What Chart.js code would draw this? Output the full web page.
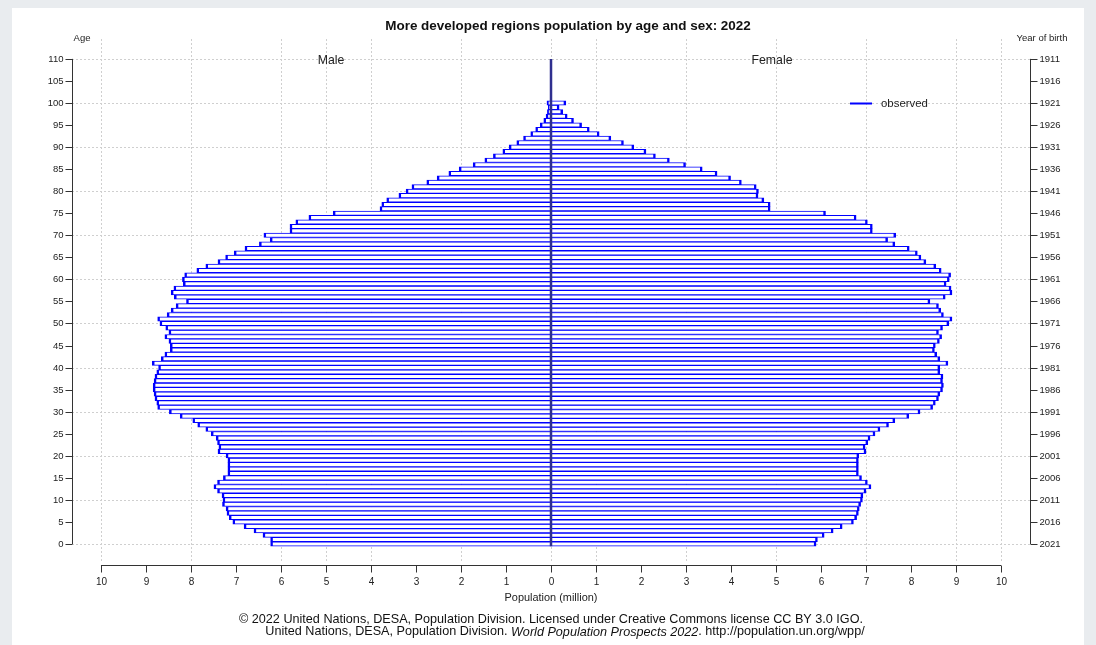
<!DOCTYPE html>
<html><head><meta charset="utf-8">
<script src="https://cdn.jsdelivr.net/npm/chart.js@4.4.0/dist/chart.umd.min.js"></script>
<style>html,body{margin:0;padding:0;background:#fff;overflow:hidden}canvas{display:block}</style>
</head><body>
<canvas id="c" width="1096" height="645"></canvas>
<script>
// ---------- data ----------
const ages = [];
for (let a = 0; a <= 100; a++) ages.push(a);
const maleValues = [
 6.23,6.23,6.40,6.60,6.82,7.07,7.15,7.20,7.22,7.30,
 7.29,7.31,7.41,7.49,7.41,7.28,7.18,7.18,7.18,7.18,
 7.22,7.40,7.38,7.41,7.44,7.55,7.67,7.85,7.96,8.24,
 8.48,8.74,8.76,8.80,8.82,8.84,8.84,8.82,8.80,8.76,
 8.72,8.86,8.66,8.58,8.46,8.46,8.49,8.58,8.49,8.56,
 8.69,8.74,8.53,8.44,8.33,8.10,8.37,8.44,8.38,8.17,
 8.19,8.14,7.87,7.67,7.40,7.23,7.04,6.80,6.48,6.24,
 6.38,5.80,5.80,5.67,5.38,4.84,3.80,3.76,3.65,3.38,
 3.22,3.09,2.76,2.53,2.27,2.04,1.73,1.47,1.28,1.07,
 0.93,0.76,0.61,0.45,0.34,0.24,0.16,0.11,0.08,0.06,
 0.09
];
const femaleValues = [
 5.89,5.92,6.07,6.27,6.47,6.72,6.79,6.83,6.85,6.88,
 6.92,6.93,7.00,7.11,7.03,6.90,6.83,6.83,6.83,6.83,
 6.84,7.00,6.98,7.04,7.09,7.20,7.31,7.50,7.64,7.95,
 8.20,8.48,8.54,8.61,8.64,8.70,8.72,8.70,8.71,8.64,
 8.64,8.82,8.64,8.57,8.52,8.54,8.63,8.68,8.61,8.70,
 8.84,8.91,8.72,8.66,8.61,8.42,8.76,8.91,8.89,8.78,
 8.85,8.88,8.67,8.55,8.33,8.22,8.14,7.96,7.64,7.48,
 7.66,7.14,7.14,7.03,6.78,6.10,4.87,4.87,4.73,4.60,
 4.61,4.56,4.23,3.99,3.69,3.36,2.99,2.63,2.32,2.11,
 1.84,1.61,1.33,1.07,0.85,0.68,0.50,0.36,0.26,0.18,
 0.33
];
const centerLineAges = [-0.5, 110];
const xTickValues = [-10,-9,-8,-7,-6,-5,-4,-3,-2,-1,0,1,2,3,4,5,6,7,8,9,10];
const xTickLabels = ['10','9','8','7','6','5','4','3','2','1','0','1','2','3','4','5','6','7','8','9','10'];
const yTickAges = [0,5,10,15,20,25,30,35,40,45,50,55,60,65,70,75,80,85,90,95,100,105,110];
const ageLabels = ['0','5','10','15','20','25','30','35','40','45','50','55','60','65','70','75','80','85','90','95','100','105','110'];
const birthYearLabels = ['2021','2016','2011','2006','2001','1996','1991','1986','1981','1976','1971','1966','1961','1956','1951','1946','1941','1936','1931','1926','1921','1916','1911'];
const gridX = [-10,-8,-6,-5,-4,-2,0,1,3,5,7,9,10];
const gridY = [0,10,20,30,40,50,60,70,80,90,100,110];

const TITLE = 'More developed regions population by age and sex: 2022';
const FOOT1 = '\u00A9 2022 United Nations, DESA, Population Division. Licensed under Creative Commons license CC BY 3.0 IGO.';
const FOOT2a = 'United Nations, DESA, Population Division. ';
const FOOT2b = 'World Population Prospects 2022';
const FOOT2c = '. http://population.un.org/wpp/';

// ---------- drawing helpers ----------
const FAM = '"Liberation Sans", Arial, Helvetica, sans-serif';
function fitFont(ctx, text, target, style) {
  let s = 11;
  ctx.font = style + ' ' + s + 'px ' + FAM;
  const w = ctx.measureText(text).width;
  return s * target / w;
}

const decor = {
  id: 'decor',
  beforeDraw(chart) {
    const ctx = chart.ctx;
    ctx.save();
    ctx.fillStyle = '#e9ecef';
    ctx.fillRect(0, 0, chart.width, chart.height);
    ctx.fillStyle = '#ffffff';
    ctx.fillRect(12, 8, 1072, 637);
    ctx.restore();
  },
  beforeDatasetsDraw(chart) {
    const ctx = chart.ctx, xs = chart.scales.x, ys = chart.scales.y, ca = chart.chartArea;
    ctx.save();
    ctx.strokeStyle = '#cfcfcf';
    ctx.lineWidth = 1;
    ctx.setLineDash([2, 2]);
    gridY.forEach(v => {
      const y = Math.round(ys.getPixelForValue(v)) + 0.5;
      ctx.beginPath(); ctx.moveTo(ca.left, y); ctx.lineTo(ca.right, y); ctx.stroke();
    });
    gridX.forEach(v => {
      const x = Math.round(xs.getPixelForValue(v)) + 0.5;
      ctx.beginPath(); ctx.moveTo(x, ca.top); ctx.lineTo(x, ca.bottom - 4); ctx.stroke();
    });
    ctx.restore();
  },
  afterDatasetsDraw(chart) {
    const ctx = chart.ctx, xs = chart.scales.x, ys = chart.scales.y, ca = chart.chartArea;
    ctx.save();
    ctx.strokeStyle = '#333';
    ctx.fillStyle = '#222';
    ctx.lineWidth = 1;
    ctx.setLineDash([]);
    // x axis
    const ax = ca.bottom + 0.5;
    const x0 = xs.getPixelForValue(xTickValues[0]), x1 = xs.getPixelForValue(xTickValues[xTickValues.length - 1]);
    ctx.beginPath(); ctx.moveTo(x0, ax); ctx.lineTo(x1, ax); ctx.stroke();
    ctx.font = '10px ' + FAM;
    ctx.textAlign = 'center'; ctx.textBaseline = 'middle';
    xTickValues.forEach((v, i) => {
      const x = Math.round(xs.getPixelForValue(v)) + 0.5;
      ctx.beginPath(); ctx.moveTo(x, ax); ctx.lineTo(x, ax + 7); ctx.stroke();
      ctx.fillText(xTickLabels[i], x, ax + 17);
    });
    ctx.font = fitFont(ctx, 'Population (million)', 93, '') + 'px ' + FAM;
    ctx.fillText('Population (million)', 551, 598);
    // y axes
    const lx = ca.left + 0.5, rx = ca.right + 0.5;
    const yb = ys.getPixelForValue(yTickAges[0]), yt = ys.getPixelForValue(yTickAges[yTickAges.length - 1]);
    ctx.beginPath(); ctx.moveTo(lx, yb); ctx.lineTo(lx, yt); ctx.stroke();
    ctx.beginPath(); ctx.moveTo(rx, yb); ctx.lineTo(rx, yt); ctx.stroke();
    ctx.font = '9.5px ' + FAM;
    yTickAges.forEach((a, i) => {
      const y = Math.round(ys.getPixelForValue(a)) + 0.5;
      ctx.beginPath(); ctx.moveTo(lx - 7, y); ctx.lineTo(lx, y); ctx.stroke();
      ctx.beginPath(); ctx.moveTo(rx, y); ctx.lineTo(rx + 7, y); ctx.stroke();
      ctx.textAlign = 'right'; ctx.fillText(ageLabels[i], lx - 9, y);
      ctx.textAlign = 'left'; ctx.fillText(birthYearLabels[i], rx + 9, y);
    });
    // axis titles
    ctx.font = '9.5px ' + FAM;
    ctx.textAlign = 'center';
    ctx.fillText('Age', 82, 38);
    ctx.fillText('Year of birth', 1042, 38);
    // title
    ctx.fillStyle = '#111';
    ctx.font = 'bold ' + fitFont(ctx, TITLE, 366, 'bold') + 'px ' + FAM;
    ctx.fillText(TITLE, 568, 26);
    // sex labels
    ctx.fillStyle = '#222';
    ctx.font = fitFont(ctx, 'Female', 41, '') + 'px ' + FAM;
    ctx.fillText('Male', 331, 61);
    ctx.fillText('Female', 772, 61);
    // legend
    ctx.strokeStyle = '#0000ff'; ctx.lineWidth = 2;
    ctx.beginPath(); ctx.moveTo(850, 103.5); ctx.lineTo(872, 103.5); ctx.stroke();
    ctx.textAlign = 'left';
    ctx.font = fitFont(ctx, 'observed', 47, '') + 'px ' + FAM;
    ctx.fillText('observed', 881, 104);
    // footer
    ctx.fillStyle = '#111';
    ctx.textAlign = 'center';
    const f1 = fitFont(ctx, FOOT1, 625, '');
    ctx.font = f1 + 'px ' + FAM;
    ctx.fillText(FOOT1, 551, 620);
    const wa = ctx.measureText(FOOT2a).width, wc = ctx.measureText(FOOT2c).width;
    ctx.font = 'italic ' + f1 + 'px ' + FAM;
    const wb = ctx.measureText(FOOT2b).width;
    let sx = 565 - (wa + wb + wc) / 2;
    ctx.textAlign = 'left';
    ctx.font = f1 + 'px ' + FAM; ctx.fillText(FOOT2a, sx, 632);
    ctx.font = 'italic ' + f1 + 'px ' + FAM; ctx.fillText(FOOT2b, sx + wa, 632);
    ctx.font = f1 + 'px ' + FAM; ctx.fillText(FOOT2c, sx + wa + wb, 632);
    ctx.restore();
  }
};

const barCommon = {
  backgroundColor: '#ffffff',
  borderColor: '#0000ff',
  borderSkipped: false,
  grouped: false,
  barPercentage: 1,
  categoryPercentage: 1,
  order: 1
};

new Chart(document.getElementById('c'), {
  type: 'bar',
  data: {
    datasets: [
      {
        type: 'line', label: 'center',
        data: centerLineAges.map(a => ({ x: 0, y: a })),
        borderColor: '#2f2f8f', borderWidth: 2.5, pointRadius: 0, order: 0
      },
      Object.assign({}, barCommon, {
        label: 'Male',
        data: ages.map((a, i) => ({ x: -maleValues[i], y: a })),
        borderWidth: { left: 2.5, right: 0, top: 1, bottom: 1 }
      }),
      Object.assign({}, barCommon, {
        label: 'Female',
        data: ages.map((a, i) => ({ x: femaleValues[i], y: a })),
        borderWidth: { left: 0, right: 2.5, top: 1, bottom: 1 }
      })
    ]
  },
  options: {
    indexAxis: 'y',
    responsive: false,
    animation: false,
    layout: { padding: { left: 72, right: 66, top: 39, bottom: 80 } },
    scales: {
      x: { type: 'linear', min: -10.644, max: 10.644, display: false, offset: false },
      y: { type: 'linear', min: -4.762, max: 114.51, display: false, offset: false }
    },
    plugins: { legend: { display: false }, tooltip: { enabled: false } }
  },
  plugins: [decor]
});
</script>
</body></html>
